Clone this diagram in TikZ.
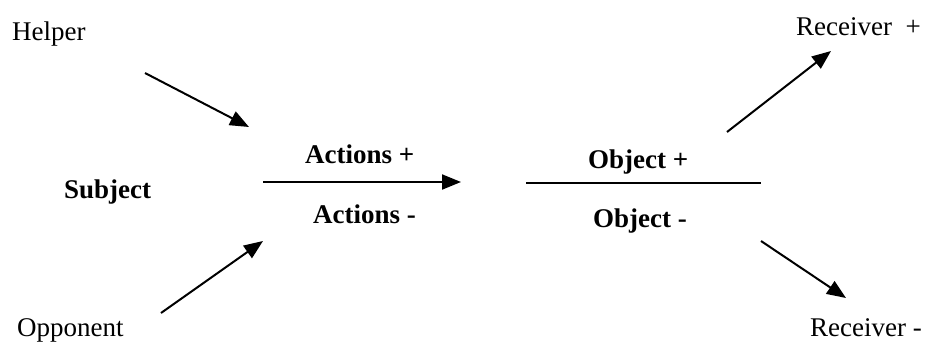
\documentclass[tikz,border=0pt]{standalone}
\usepackage{fontspec}
\setmainfont{Liberation Serif}
\usetikzlibrary{arrows.meta,positioning}
\begin{document}
\begin{tikzpicture}[x=1pt,y=-1pt,
    lbl/.style={inner sep=0pt,anchor=base west,font=\fontsize{27}{31}\selectfont},
    blbl/.style={lbl,font=\fontsize{27}{31}\selectfont\bfseries},
    arr/.style={line width=2pt,-{Triangle[length=19pt,width=15pt]}}]
\useasboundingbox (0,0) rectangle (931,343);
% left side
\node[lbl](helper) at (12,40){Helper};
\node[blbl](subject) at (64,198){Subject};
\node[lbl](opponent) at (17,336){Opponent};
% middle
\node[blbl](actplus) at (305,163){Actions +};
\node[blbl](actminus) at (313,223){Actions -};
\node[blbl](objplus) at (588,168){Object +};
\node[blbl](objminus) at (593,227){Object -};
% right side
\node[lbl](recplus) at (796,35){Receiver\ \ +};
\node[lbl](recminus) at (810,336){Receiver -};
% arrow ends
\coordinate (h0) at (145,73);
\coordinate (h1) at (249,127);
\coordinate (o0) at (161,313);
\coordinate (o1) at (263,241);
\coordinate (a0) at (263,182);
\coordinate (a1) at (461,182);
\coordinate (b0) at (526,183);
\coordinate (b1) at (761,183);
\coordinate (r0) at (727,132);
\coordinate (r1) at (831,51);
\coordinate (s0) at (761,241);
\coordinate (s1) at (846,298);
\draw[arr] (h0) -- (h1);
\draw[arr] (o0) -- (o1);
\draw[arr] (a0) -- (a1);
\draw[line width=2pt] (b0) -- (b1);
\draw[arr] (r0) -- (r1);
\draw[arr] (s0) -- (s1);
\end{tikzpicture}
\end{document}
